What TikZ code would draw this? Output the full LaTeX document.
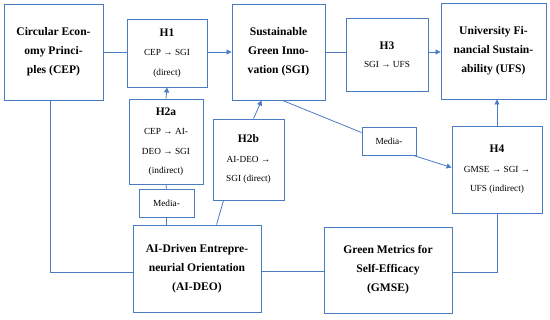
\documentclass[tikz,border=0pt]{standalone}
\usepackage{fontspec}
\setmainfont{Liberation Serif}
\usetikzlibrary{calc,arrows.meta,shadows}
\definecolor{lineblue}{HTML}{4A7CC4}
\tikzset{
  box/.style={draw=lineblue, line width=0.9pt, fill=white, inner sep=0pt, align=center,
    drop shadow={shadow xshift=1pt, shadow yshift=-1pt, opacity=0.25, fill=black!60}},
  bigtxt/.style={font=\bfseries\fontsize{11.6}{19}\selectfont},
  smalltxt/.style={font=\fontsize{9.3}{19.5}\selectfont},
  conn/.style={draw=lineblue, line width=0.8pt},
  arr/.style={conn, -{Triangle[length=5pt,width=5pt]}}
}
\newcommand{\hd}[1]{{\bfseries\fontsize{11.5}{19.5}\selectfont #1}}
\begin{document}
\begin{tikzpicture}[x=1pt,y=-1pt]
\useasboundingbox (0,0) rectangle (550,320);
% nodes
\node[box,bigtxt,minimum width=99,minimum height=96] (CEP) at (53.5,52) {Circular Econ-\\omy Princi-\\ples (CEP)};
\node[box,smalltxt,minimum width=80,minimum height=68] (H1) at (167,53) {\hd{H1}\\CEP → SGI\\(direct)};
\node[box,bigtxt,minimum width=93,minimum height=96] (SGI) at (278.5,52) {Sustainable\\Green Inno-\\vation (SGI)};
\node[box,smalltxt,minimum width=82,minimum height=73] (H3) at (387,54.5) {\hd{H3}\\[-2pt]SGI → UFS};
\node[box,bigtxt,minimum width=105,minimum height=96] (UFS) at (493.5,51) {University Fi-\\nancial Sustain-\\ability (UFS)};
\node[box,smalltxt,minimum width=74,minimum height=85] (H2a) at (166,141.5) {\hd{H2a}\\CEP → AI-\\DEO → SGI\\(indirect)};
\node[box,smalltxt,minimum width=55,minimum height=28] (ML) at (166.5,203) {Media-};
\node[box,bigtxt,minimum width=128,minimum height=87] (AIDEO) at (197,268.5) {AI-Driven Entrepre-\\neurial Orientation\\(AI-DEO)};
\node[box,smalltxt,minimum width=71,minimum height=81] (H2b) at (248.5,159.5) {\hd{H2b}\\AI-DEO →\\SGI (direct)};
\node[box,smalltxt,minimum width=54,minimum height=28] (MR) at (389,141) {Media-};
\node[box,smalltxt,minimum width=90,minimum height=87] (H4) at (497,169.5) {\hd{H4}\\GMSE → SGI →\\UFS (indirect)};
\node[box,bigtxt,minimum width=128,minimum height=86] (GMSE) at (388,270) {Green Metrics for\\Self-Efficacy\\(GMSE)};
% connectors
\draw[conn] (CEP.east) -- (CEP.east -| H1.west);
\draw[arr] (CEP.east -| H1.east) -- (CEP.east -| SGI.west);
\draw[arr] (H2a.north) -- (H1.south);
\draw[conn] (ML.north) -- (H2a.south);
\draw[conn] (AIDEO.north -| ML.south) -- (ML.south);
\draw[conn] ($(CEP.south west)+(47,0)$) |- ($(AIDEO.west)+(0,4)$);
\draw[conn] ($(AIDEO.north west)+(84,0)$) -- ($(H2b.south west)+(11,0)$);
\draw[arr] ($(H2b.north west)+(41,0)$) -- ($(SGI.south west)+(30,0)$);
\draw[conn] (SGI.east) -- (SGI.east -| H3.west);
\draw[arr] (SGI.east -| H3.east) -- (SGI.east -| UFS.west);
\draw[conn] ($(SGI.south west)+(51,0)$) -- ($(MR.north west)+(0,6)$);
\draw[arr] ($(MR.south east)+(-3,0)$) -- ($(H4.north west)+(0,42)$);
\draw[arr] (H4.north) -- (H4.north |- UFS.south);
\draw[conn] ($(AIDEO.east)+(0,2.5)$) -- ($(AIDEO.east -| GMSE.west)+(0,2.5)$);
\draw[conn] ($(GMSE.east)+(0,2)$) -| (H4.south);
\end{tikzpicture}
\end{document}
